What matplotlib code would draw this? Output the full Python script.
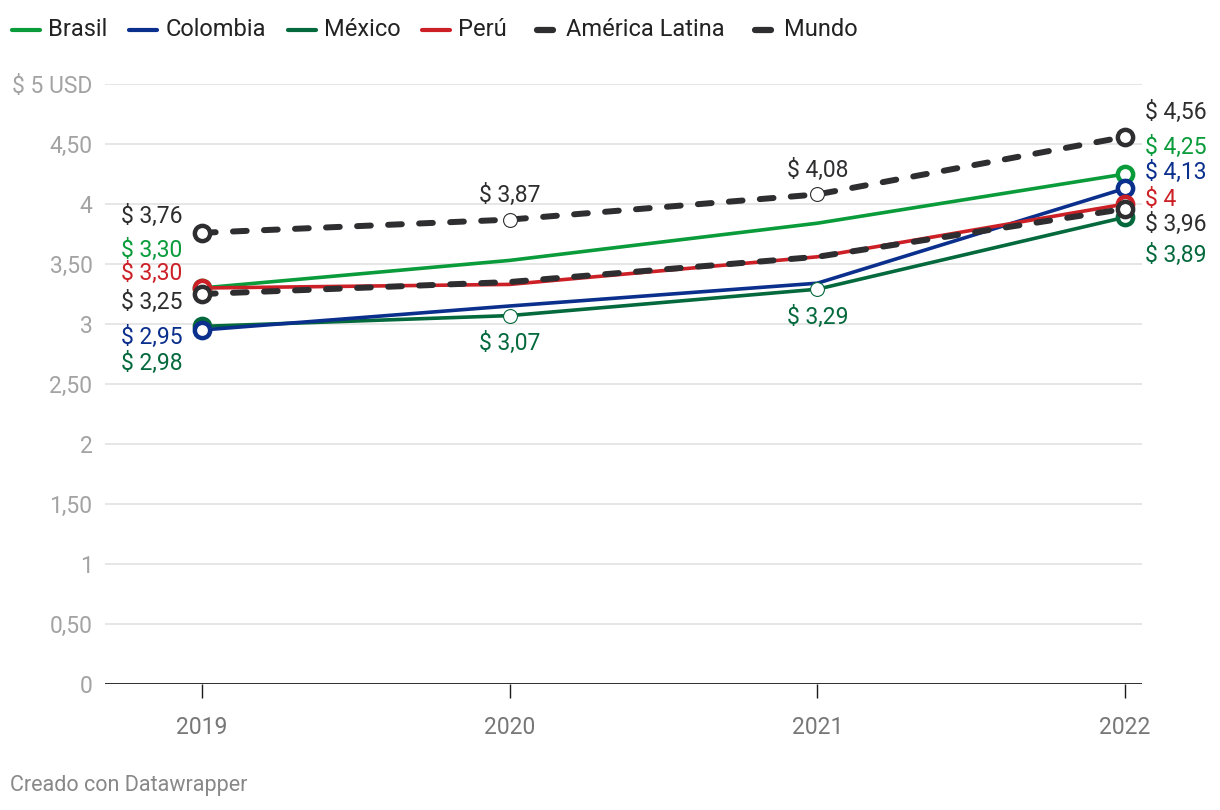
import matplotlib.pyplot as plt
from matplotlib.lines import Line2D

plt.rcParams['font.family'] = ['Roboto', 'DejaVu Sans']

years = [2019, 2020, 2021, 2022]
brasil = [3.30, 3.53, 3.84, 4.25]
colombia = [2.95, 3.15, 3.34, 4.13]
mexico = [2.98, 3.07, 3.29, 3.89]
peru = [3.30, 3.33, 3.56, 4.00]
america_latina = [3.25, 3.35, 3.56, 3.96]
mundo = [3.76, 3.87, 4.08, 4.56]

series_names = ["Brasil", "Colombia", "México", "Perú", "América Latina", "Mundo"]
series_values = [brasil, colombia, mexico, peru, america_latina, mundo]
y_ticks = [0, 0.5, 1, 1.5, 2, 2.5, 3, 3.5, 4, 4.5, 5]
y_tick_labels = ["0", "0,50", "1", "1,50", "2", "2,50", "3", "3,50", "4", "4,50", "$ 5 USD"]

colores = {
    "Brasil": "#0a9b3a",
    "Colombia": "#0b2f8c",
    "México": "#04693c",
    "Perú": "#cc2026",
    "América Latina": "#2e2e30",
    "Mundo": "#2e2e30",
}
discontinuas = {"América Latina", "Mundo"}

# posiciones (en unidades de y) de las etiquetas a la izquierda / derecha
etiqueta_izq = {"Mundo": 3.90, "Brasil": 3.61, "Perú": 3.425,
                "América Latina": 3.18, "Colombia": 2.89, "México": 2.675}
etiqueta_der = {"Mundo": 4.76, "Brasil": 4.475, "Colombia": 4.26,
                "Perú": 4.04, "América Latina": 3.83, "México": 3.57}
# etiquetas intermedias: desplazamiento vertical en pixeles
etiqueta_media = {"Mundo": 24, "México": -28}

FS = 16.5


def fmt(v):
    s = f"{v:.2f}".replace(".", ",")
    if s.endswith(",00") and v >= 4:
        s = s[:-3]
    return "$ " + s


W, H = 1220, 810
fig = plt.figure(figsize=(W / 100, H / 100), dpi=100)
ax = fig.add_axes([105 / W, (H - 684) / H, (1142 - 105) / W, 600 / H])
ax.set_xlim(2018.685, 2022.055)
ax.set_ylim(0, 5)

for s in ax.spines.values():
    s.set_visible(False)

for t in y_ticks[1:]:
    ax.axhline(t, color="#e2e2e2", lw=1.2, zorder=0)
ax.plot([62 / W, 105 / W], [(H - 84) / H] * 2, transform=fig.transFigure,
        color="#e2e2e2", lw=1.2, zorder=0)
ax.axhline(0, color="#1a1a1a", lw=2, zorder=1)

ax.set_yticks(y_ticks)
ax.set_yticklabels(y_tick_labels)
ax.tick_params(axis="y", length=0, pad=9, labelsize=FS, labelcolor="#a3a3a3")
ax.set_xticks(years)
ax.set_xticklabels([str(y) for y in years])
ax.tick_params(axis="x", length=10, width=1, color="#1a1a1a", pad=13,
               labelsize=FS, labelcolor="#777777")

orden_z = {"Brasil": 3, "Colombia": 4, "México": 2, "Perú": 5,
           "América Latina": 6, "Mundo": 6}

for nombre, valores in zip(series_names, series_values):
    c = colores[nombre]
    if nombre in discontinuas:
        ln, = ax.plot(years, valores, color=c, lw=4.3, zorder=orden_z[nombre])
        ln.set_dashes((2.3, 2.9))
        ln.set_dash_capstyle("round")
    else:
        ax.plot(years, valores, color=c, lw=2.6, zorder=orden_z[nombre])
    # extremos
    ax.plot([years[0], years[-1]], [valores[0], valores[-1]], ls="none",
            marker="o", ms=11, mfc="white", mec=c, mew=3.2,
            zorder=orden_z[nombre] + 5)
    ax.annotate(fmt(valores[0]), xy=(years[0], etiqueta_izq[nombre]),
                xytext=(-14, 0), textcoords="offset points", ha="right",
                va="center", fontsize=FS, color=c)
    ax.annotate(fmt(valores[-1]), xy=(years[-1], etiqueta_der[nombre]),
                xytext=(14, 0), textcoords="offset points", ha="left",
                va="center", fontsize=FS, color=c)
    if nombre in etiqueta_media:
        for x, v in zip(years[1:3], valores[1:3]):
            ax.plot(x, v, marker="o", ms=10, mfc="white", mec=c, mew=0.8,
                    zorder=12)
            ax.annotate(fmt(v), xy=(x, v),
                        xytext=(0, etiqueta_media[nombre] * 0.72),
                        textcoords="offset points", ha="center", va="center",
                        fontsize=FS, color=c)

# leyenda
fig.canvas.draw()
r = fig.canvas.get_renderer()
x = 12
y_ley = H - 30
for nombre in series_names:
    c = colores[nombre]
    if nombre in discontinuas:
        fig.add_artist(Line2D([(x + 8) / W, (x + 24) / W], [y_ley / H] * 2,
                              color=c, lw=4.5, solid_capstyle="round"))
        x += 37
    else:
        fig.add_artist(Line2D([x / W, (x + 28) / W], [y_ley / H] * 2,
                              color=c, lw=3, solid_capstyle="round"))
        x += 36
    t = fig.text(x / W, y_ley / H, nombre, fontsize=17, color="#222222",
                 ha="left", va="center")
    x += t.get_window_extent(r).width + 22

fig.text(10 / W, (H - 786) / H, "Creado con Datawrapper", fontsize=15.5,
         color="#888888", ha="left", va="center")

fig.savefig("out.png", dpi=100, facecolor="white")
